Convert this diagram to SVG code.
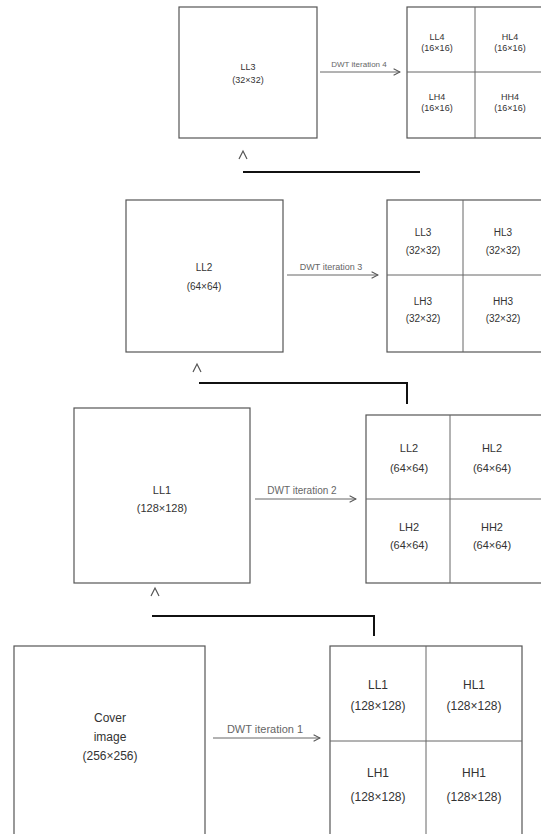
<svg xmlns="http://www.w3.org/2000/svg" width="541" height="834" viewBox="0 0 541 834">
<defs>
<marker id="ah" viewBox="0 0 10 10" refX="9" refY="5" markerWidth="8" markerHeight="8" markerUnits="userSpaceOnUse" orient="auto">
<path d="M1,1 L9,5 L1,9" fill="none" stroke="#555" stroke-width="1.3"/>
</marker>
<style>
.box{fill:#fff;stroke:#555;stroke-width:1.2}
.div{stroke:#666;stroke-width:1}
.t{font-family:"Liberation Sans",Arial,sans-serif;fill:#333;text-anchor:middle}
.lbl{font-family:"Liberation Sans",Arial,sans-serif;fill:#666;text-anchor:middle}
.arr{stroke:#666;stroke-width:1;fill:none;marker-end:url(#ah)}
.conn{stroke:#111;stroke-width:2;fill:none}
.car{stroke:#555;stroke-width:1.2;fill:none}
</style>
</defs>
<rect width="541" height="834" fill="#fff"/>

<!-- Level 1 -->
<g id="cover">
<rect class="box" x="14" y="646" width="191" height="194"/>
<text class="t" font-size="12" x="110" y="722">Cover</text>
<text class="t" font-size="12" x="110" y="741">image</text>
<text class="t" font-size="12" x="110" y="760">(256×256)</text>
</g>
<g id="dwt1">
<rect class="box" x="330" y="646" width="192" height="194"/>
<line class="div" x1="426" y1="646" x2="426" y2="840"/>
<line class="div" x1="330" y1="741" x2="522" y2="741"/>
<text class="t" font-size="12" x="378" y="689">LL1</text>
<text class="t" font-size="12" x="378" y="710">(128×128)</text>
<text class="t" font-size="12" x="474" y="689">HL1</text>
<text class="t" font-size="12" x="474" y="710">(128×128)</text>
<text class="t" font-size="12" x="378" y="777">LH1</text>
<text class="t" font-size="12" x="378" y="801">(128×128)</text>
<text class="t" font-size="12" x="474" y="777">HH1</text>
<text class="t" font-size="12" x="474" y="801">(128×128)</text>
</g>

<!-- Level 2 -->
<g id="ll1">
<rect class="box" x="74" y="408" width="176" height="175"/>
<text class="t" font-size="11" x="162" y="494">LL1</text>
<text class="t" font-size="11" x="162" y="512">(128×128)</text>
</g>
<g id="dwt2">
<rect class="box" x="366" y="415" width="180" height="168"/>
<line class="div" x1="450" y1="415" x2="450" y2="583"/>
<line class="div" x1="366" y1="499" x2="541" y2="499"/>
<text class="t" font-size="11" x="409" y="452">LL2</text>
<text class="t" font-size="11" x="409" y="472">(64×64)</text>
<text class="t" font-size="11" x="492" y="452">HL2</text>
<text class="t" font-size="11" x="492" y="472">(64×64)</text>
<text class="t" font-size="11" x="409" y="531">LH2</text>
<text class="t" font-size="11" x="409" y="549">(64×64)</text>
<text class="t" font-size="11" x="492" y="531">HH2</text>
<text class="t" font-size="11" x="492" y="549">(64×64)</text>
</g>

<!-- Level 3 -->
<g id="ll2">
<rect class="box" x="126" y="200" width="157" height="152"/>
<text class="t" font-size="10" x="204" y="271">LL2</text>
<text class="t" font-size="10" x="204" y="290">(64×64)</text>
</g>
<g id="dwt3">
<rect class="box" x="387" y="200" width="158" height="152"/>
<line class="div" x1="463" y1="200" x2="463" y2="352"/>
<line class="div" x1="387" y1="275" x2="541" y2="275"/>
<text class="t" font-size="10" x="423" y="236">LL3</text>
<text class="t" font-size="10" x="423" y="254">(32×32)</text>
<text class="t" font-size="10" x="503" y="236">HL3</text>
<text class="t" font-size="10" x="503" y="254">(32×32)</text>
<text class="t" font-size="10" x="423" y="305">LH3</text>
<text class="t" font-size="10" x="423" y="322">(32×32)</text>
<text class="t" font-size="10" x="503" y="305">HH3</text>
<text class="t" font-size="10" x="503" y="322">(32×32)</text>
</g>

<!-- Level 4 -->
<g id="ll3">
<rect class="box" x="179" y="7" width="138" height="131"/>
<text class="t" font-size="9" x="248" y="70">LL3</text>
<text class="t" font-size="9" x="248" y="83">(32×32)</text>
</g>
<g id="dwt4">
<rect class="box" x="407" y="7" width="138" height="131"/>
<line class="div" x1="475" y1="7" x2="475" y2="138"/>
<line class="div" x1="407" y1="72" x2="541" y2="72"/>
<text class="t" font-size="9" x="437" y="40">LL4</text>
<text class="t" font-size="9" x="437" y="51">(16×16)</text>
<text class="t" font-size="9" x="510" y="40">HL4</text>
<text class="t" font-size="9" x="510" y="51">(16×16)</text>
<text class="t" font-size="9" x="437" y="100">LH4</text>
<text class="t" font-size="9" x="437" y="111">(16×16)</text>
<text class="t" font-size="9" x="510" y="100">HH4</text>
<text class="t" font-size="9" x="510" y="111">(16×16)</text>
</g>

<!-- Connectors -->
<g id="connectors">
<line class="arr" x1="213" y1="738" x2="320" y2="738"/>
<text class="lbl" font-size="11" x="265" y="733">DWT iteration 1</text>
<line class="arr" x1="255" y1="499" x2="356" y2="499"/>
<text class="lbl" font-size="10" x="302" y="494">DWT iteration 2</text>
<line class="arr" x1="287" y1="275" x2="378" y2="275"/>
<text class="lbl" font-size="9" x="331" y="270">DWT iteration 3</text>
<line class="arr" x1="320" y1="72" x2="400" y2="72"/>
<text class="lbl" font-size="8" x="359" y="67">DWT iteration 4</text>

<path class="conn" d="M374,636 V616 H152"/>
<path class="car" d="M151,596 L155,588 L159,596"/>
<path class="conn" d="M407,404 V383 H199"/>
<path class="car" d="M193,372 L197,364 L201,372"/>
<path class="conn" d="M420,172 H243"/>
<path class="car" d="M239,159 L243,151 L247,159"/>
</g>
</svg>
